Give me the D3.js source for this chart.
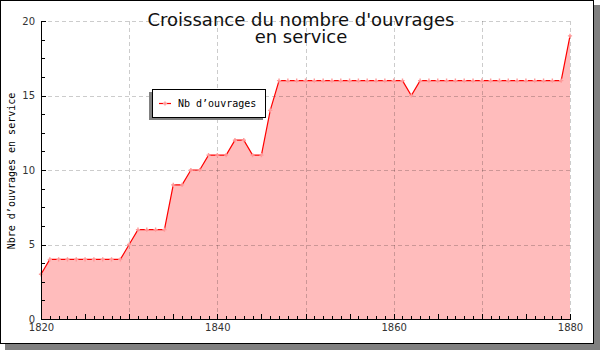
<!DOCTYPE html>
<html>
<head>
<meta charset="utf-8">
<script src="https://cdn.jsdelivr.net/npm/d3@7"></script>
<style>
  body { margin: 0; background: #fff; }
  svg { display: block; }
</style>
</head>
<body>
<script>
// data
const years = d3.range(1820, 1881);
const ouvrages = [
  3, 4, 4, 4, 4, 4, 4, 4, 4, 4,
  5, 6, 6, 6, 6, 9, 9, 10, 10, 11,
  11, 11, 12, 12, 11, 11, 14, 16, 16, 16,
  16, 16, 16, 16, 16, 16, 16, 16, 16, 16,
  16, 16, 15, 16, 16, 16, 16, 16, 16, 16,
  16, 16, 16, 16, 16, 16, 16, 16, 16, 16,
  19
];
const xTicks = [1820, 1840, 1860, 1880];
const yTicks = [0, 5, 10, 15, 20];
const titleLines = ["Croissance du nombre d'ouvrages", "en service"];
const yLabel = "Nbre d\u2019ouvrages en service";
const legendLabel = "Nb d\u2019ouvrages";

const W = 600, H = 350;
const data = years.map((y, i) => ({ year: y, v: ouvrages[i] }));

const svg = d3.select('body').append('svg')
  .attr('width', W)
  .attr('height', H);

// frame + drop shadow
svg.append('rect').attr('x', 5).attr('y', 5).attr('width', 595).attr('height', 345).attr('fill', '#808080');
svg.append('rect').attr('x', 0.5).attr('y', 0.5).attr('width', 593).attr('height', 343)
  .attr('fill', '#fff').attr('stroke', '#000');

const x = d3.scaleLinear().domain([1820, 1880]).range([41, 570]);
const y = d3.scaleLinear().domain([0, 20]).range([319, 21]);

// area + line
svg.append('path')
  .datum(data)
  .attr('fill', '#ffbcbc')
  .attr('d', d3.area().x(d => x(d.year)).y0(y(0)).y1(d => y(d.v)));

// grid
const grid = svg.append('g')
  .attr('stroke', 'rgba(0,0,0,0.2)')
  .attr('stroke-dasharray', '4,3')
  .attr('shape-rendering', 'crispEdges');
grid.selectAll('.gy').data(yTicks.filter(d => d > 0)).join('line')
  .attr('x1', x(1820)).attr('x2', x(1880))
  .attr('y1', d => Math.round(y(d)) + 0.5).attr('y2', d => Math.round(y(d)) + 0.5);
grid.selectAll('.gx').data(d3.range(1830, 1881, 10)).join('line')
  .attr('x1', d => Math.round(x(d)) + 0.5).attr('x2', d => Math.round(x(d)) + 0.5)
  .attr('y1', y(0)).attr('y2', y(20));

svg.append('path')
  .datum(data)
  .attr('fill', 'none')
  .attr('stroke', '#ff0000')
  .attr('stroke-width', 1.2)
  .attr('d', d3.line().x(d => x(d.year)).y(d => y(d.v)));

svg.append('g').selectAll('path').data(data).join('path')
  .attr('transform', d => `translate(${x(d.year)},${y(d.v)})`)
  .attr('d', d3.symbol(d3.symbolCross, 10))
  .attr('fill', '#ff9a9a');

// axes
const axisG = svg.append('g').attr('shape-rendering', 'crispEdges');

const xAxis = d3.axisBottom(x).tickValues(xTicks).tickFormat(d3.format('d')).tickSize(0).tickPadding(5);
const gx = axisG.append('g').attr('transform', `translate(0,${y(0)})`).call(xAxis);
gx.select('.domain').attr('stroke', '#000');
gx.selectAll('text').attr('font-family', 'DejaVu Sans').attr('font-size', 10).attr('fill', '#333');

// x ticks pointing in
axisG.selectAll('.xt').data(d3.range(1820, 1881)).join('line')
  .attr('x1', d => Math.round(x(d)) + 0.5).attr('x2', d => Math.round(x(d)) + 0.5)
  .attr('y1', y(0)).attr('y2', d => y(0) - (d % 5 === 0 ? 5 : 3))
  .attr('stroke', '#000');

const yAxis = d3.axisLeft(y).tickValues(yTicks).tickSize(0).tickPadding(6);
const gy = axisG.append('g').attr('transform', `translate(${x(1820)},0)`).call(yAxis);
gy.select('.domain').attr('stroke', '#000');
gy.selectAll('text').attr('font-family', 'DejaVu Sans').attr('font-size', 10).attr('fill', '#333');

axisG.selectAll('.yt').data(d3.range(0, 20.01, 1.25)).join('line')
  .attr('x1', x(1820)).attr('x2', d => x(1820) + (d % 5 === 0 ? 5 : 4))
  .attr('y1', d => Math.round(y(d)) + 0.5).attr('y2', d => Math.round(y(d)) + 0.5)
  .attr('stroke', '#000');

// title
svg.append('text')
  .attr('x', 301).attr('y', 26)
  .attr('text-anchor', 'middle')
  .attr('font-family', 'DejaVu Sans')
  .attr('font-size', 18)
  .attr('fill', '#111')
  .selectAll('tspan').data(titleLines).join('tspan')
  .attr('x', 301).attr('dy', (d, i) => i ? 17 : 0)
  .text(d => d);

// y label
svg.append('text')
  .attr('transform', `translate(15,${171}) rotate(-90)`)
  .attr('text-anchor', 'middle')
  .attr('font-family', 'DejaVu Sans Mono')
  .attr('font-size', 10)
  .attr('fill', '#000')
  .text(yLabel);

// legend
const lg = svg.append('g');
lg.append('rect').attr('x', 149).attr('y', 92).attr('width', 114).attr('height', 28).attr('fill', '#808080');
lg.append('rect').attr('x', 152.5).attr('y', 89.5).attr('width', 113).attr('height', 28)
  .attr('fill', '#fff').attr('stroke', '#000').attr('stroke-width', 1);
lg.append('line').attr('x1', 159).attr('x2', 171).attr('y1', 103.5).attr('y2', 103.5)
  .attr('stroke', '#ff0000').attr('stroke-width', 1.2);
lg.append('path').attr('transform', 'translate(165,103.5)')
  .attr('d', d3.symbol(d3.symbolCross, 10)).attr('fill', '#ff9a9a');
lg.append('text').attr('x', 178).attr('y', 107)
  .attr('font-family', 'DejaVu Sans Mono').attr('font-size', 10).attr('fill', '#000')
  .text(legendLabel);
</script>
</body>
</html>
